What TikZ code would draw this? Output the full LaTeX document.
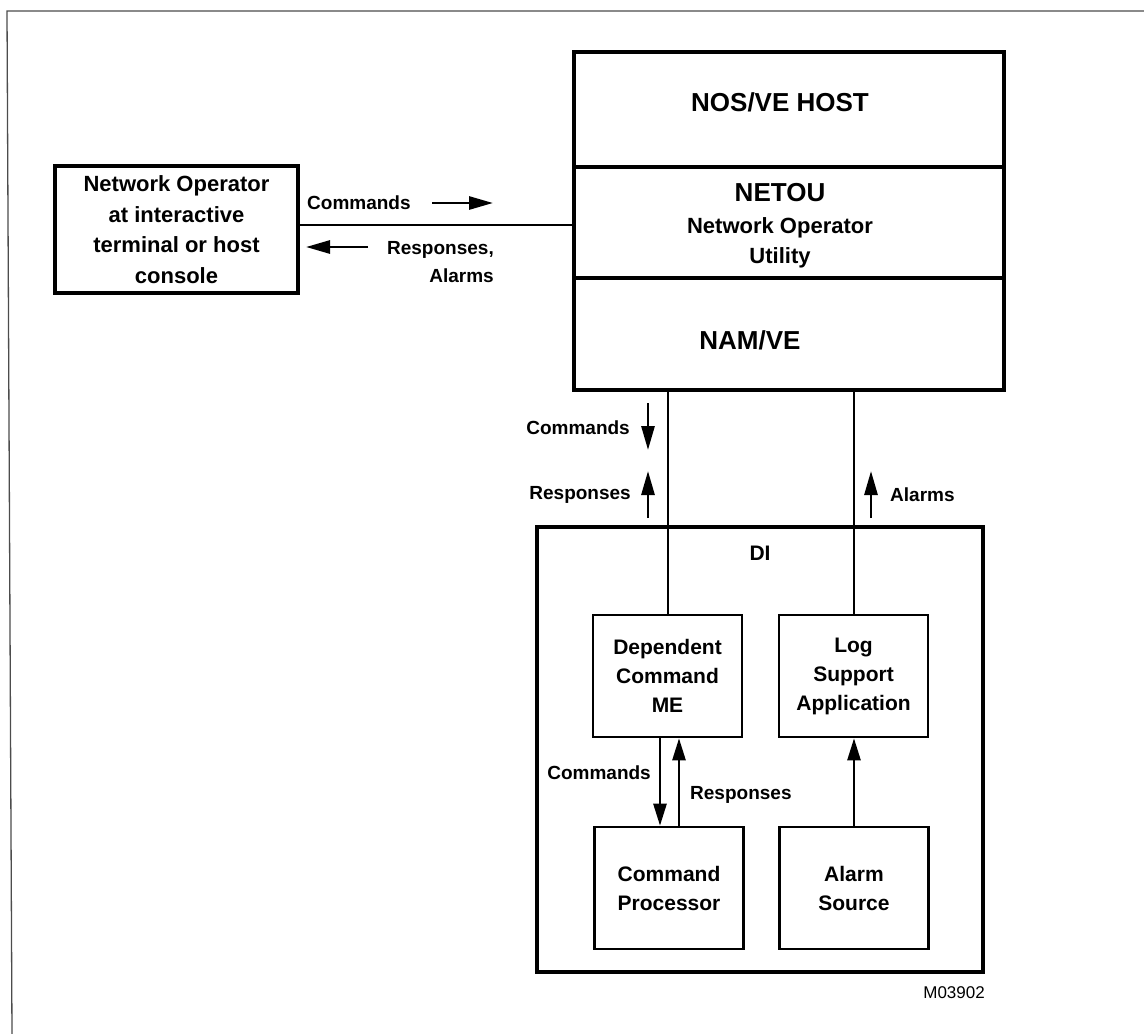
\documentclass[tikz,border=0pt]{standalone}
\usepackage{fontspec}
\setmainfont{Liberation Sans}
\usetikzlibrary{arrows.meta}
\begin{document}
\begin{tikzpicture}[x=1pt,y=-1pt,
  thickbox/.style={draw,line width=3.5pt,inner sep=0pt},
  inbox/.style={draw,line width=2.6pt,inner sep=0pt,minimum width=149pt,minimum height=122pt,
    align=center,font=\fontsize{21}{29}\selectfont\bfseries},
  big/.style={font=\fontsize{26}{30}\selectfont\bfseries},
  lbl/.style={font=\fontsize{19}{28}\selectfont\bfseries,inner sep=0pt},
  conn/.style={line width=2pt},
  arr/.style={line width=2.8pt,-{Triangle[length=24pt,width=13pt]}},
  iarr/.style={line width=2.6pt,-{Triangle[length=22pt,width=13pt]}},
  frame/.style={line width=1.3pt,draw=black!70}
]
\useasboundingbox (0,0) rectangle (1144,1034);
% page edge lines
\coordinate (fa) at (1144,11);
\coordinate (fb) at (7,11);
\coordinate (fc) at (12,1034);
\draw[frame] (fa) -- (fb) -- (fc);

% host stack
\node[thickbox,minimum width=430pt,minimum height=115pt] (host) at (789,109.5) {};
\node[thickbox,minimum width=430pt,minimum height=111pt] (netou) at (789,222.5) {};
\node[thickbox,minimum width=430pt,minimum height=112pt] (namve) at (789,334) {};
\node[big] (thost) at (780,102) {NOS/VE HOST};
\node[big,inner sep=0pt] (tnetou) at (780,193) {NETOU};
\node[font=\fontsize{22}{30}\selectfont\bfseries,align=center,inner sep=0pt] (tnetou2) at (780,243) {Network Operator\\Utility};
\node[big] (tnam) at (750,340) {NAM/VE};

% operator box
\node[thickbox,minimum width=243pt,minimum height=127pt,align=center,
  font=\fontsize{22}{30.5}\selectfont\bfseries] (op) at (176.5,229.5)
  {Network Operator\\at interactive\\terminal or host\\console};
\draw[conn] ([yshift=5pt]op.east) -- ([yshift=5pt]op.east -| netou.west);
\node[lbl,anchor=west] (lcmd) at (307,203) {Commands};
\coordinate (a1s) at (432,203);
\coordinate (a1e) at (493,203);
\draw[arr] (a1s) -- (a1e);
\coordinate (a2s) at (368,247);
\coordinate (a2e) at (306,247);
\draw[arr] (a2s) -- (a2e);
\node[lbl,anchor=east,align=right] (lresp) at (494,262) {Responses,\\Alarms};

% DI box
\node[thickbox,minimum width=446pt,minimum height=445pt] (di) at (760,749.5) {};
\node[big,font=\fontsize{21}{25}\selectfont\bfseries] (tdi) at (760,553) {DI};

% inner boxes
\node[inbox] (dep) at (667.5,676) {Dependent\\Command\\ME};
\node[inbox] (log) at (853.5,676) {Log\\Support\\Application};
\node[inbox] (cp) at (669,888) {Command\\Processor};
\node[inbox] (as) at (854,888) {Alarm\\Source};

% vertical connectors host -> DI
\draw[conn] (dep.north) -- (dep.north |- namve.south);
\draw[conn] (log.north) -- (log.north |- namve.south);

% labels and arrows between host and DI
\node[lbl,anchor=east] (lcmd2) at (630,428) {Commands};
\coordinate (a3s) at (648,403);
\coordinate (a3e) at (648,450);
\draw[arr] (a3s) -- (a3e);
\node[lbl,anchor=east] (lresp2) at (631,495) {Responses};
\coordinate (a4s) at (648,518);
\coordinate (a4e) at (648,471);
\draw[arr] (a4s) -- (a4e);
\coordinate (a5s) at (871,518);
\coordinate (a5e) at (871,471);
\draw[arr] (a5s) -- (a5e);
\node[lbl,anchor=west] (lal) at (890,495) {Alarms};

% inner arrows
\draw[iarr] ([xshift=-7.5pt]dep.south) -- ([xshift=-7.5pt]dep.south |- cp.north);
\draw[iarr] ([xshift=10pt]cp.north) -- ([xshift=10pt]cp.north |- dep.south);
\draw[iarr] (as.north) -- (as.north |- log.south);
\node[lbl,anchor=east] (lcmd3) at (651,773) {Commands};
\node[lbl,anchor=west] (lresp3) at (690,795) {Responses};

\node[font=\fontsize{17}{20}\selectfont,inner sep=0pt,anchor=east] (fig) at (985,993) {M03902};
\end{tikzpicture}
\end{document}
